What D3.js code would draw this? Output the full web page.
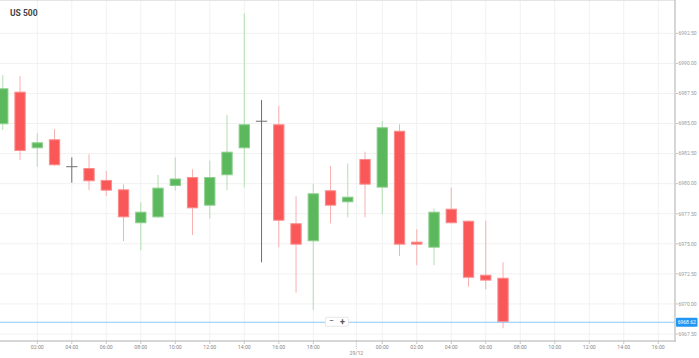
<!DOCTYPE html>
<html><head><meta charset="utf-8">
<script src="https://cdn.jsdelivr.net/npm/d3@7/dist/d3.min.js"></script>
<style>body{margin:0;background:#fff;}svg{display:block;font-family:Roboto,"Liberation Sans",sans-serif;}</style>
</head><body><svg id="c" width="699" height="358"></svg>
<script>
// ---- data ----
const categories = ["00:00","01:00","02:00","03:00","04:00","05:00","06:00","07:00","08:00","09:00","10:00","11:00","12:00","13:00","14:00","15:00","16:00","17:00","18:00","19:00","20:00","23:00","00:00","01:00","02:00","03:00","04:00","05:00","06:00","07:00"];
const opens  = [6984.94,6987.65,6982.94,6983.69,6981.41,6981.30,6980.31,6979.53,6976.71,6977.20,6979.81,6980.55,6978.17,6980.70,6982.94,6985.19,6984.94,6976.71,6975.21,6979.45,6978.45,6982.05,6979.67,6984.40,6975.18,6974.68,6977.92,6976.92,6972.43,6972.18];
const highs  = [6989.03,6988.95,6984.19,6984.54,6982.19,6982.44,6981.05,6979.95,6978.45,6980.72,6982.19,6981.19,6981.91,6985.71,6994.16,6986.96,6986.46,6978.95,6979.97,6981.47,6981.69,6982.66,6985.21,6984.94,6976.21,6977.92,6979.67,6976.95,6976.92,6973.46];
const lows   = [6984.46,6981.97,6981.41,6981.50,6980.08,6979.47,6978.98,6975.23,6974.49,6977.15,6979.43,6975.73,6977.09,6979.47,6979.70,6973.46,6974.71,6970.94,6969.50,6976.71,6977.20,6977.20,6977.45,6973.99,6973.22,6973.22,6976.68,6971.44,6971.22,6967.98];
const closes = [6987.93,6982.72,6983.44,6981.53,6981.41,6980.20,6979.42,6977.20,6977.67,6979.67,6980.43,6977.95,6980.55,6982.66,6984.94,6985.19,6976.92,6974.93,6979.20,6978.17,6978.92,6979.92,6984.69,6974.93,6974.93,6977.67,6976.71,6972.18,6971.94,6968.48];
const currentPriceLabel = "6968.62";
const title = "US 500";
const xTickPos    = [2,4,6,8,10,12,14,16,18,22,24,26,28,30,32,34,36,38];
const xTickLabels = ["02:00","04:00","06:00","08:00","10:00","12:00","14:00","16:00","18:00","00:00","02:00","04:00","06:00","08:00","10:00","12:00","14:00","16:00"];
const dateSepPos = 20.5, dateSepLabel = "29/12";
const yTickValues = [6967.5,6970,6972.5,6975,6977.5,6980,6982.5,6985,6987.5,6990,6992.5];
const yTickLabels = ["6967.50","6970.00","6972.50","6975.00","6977.50","6980.00","6982.50","6985.00","6987.50","6990.00","6992.50"];

// ---- layout ----
const W = 699, H = 358, plotR = 675, plotB = 341;
const svg = d3.select("#c");
const x = d3.scaleLinear().domain([-0.162, 38.97]).range([0, plotR]);
const y = d3.scaleLinear().domain([6966.92, 6995.27]).range([plotB, 0]);
const step = x(1) - x(0);
const bw = step * 0.655;

svg.append("defs").append("clipPath").attr("id","clip").append("rect")
  .attr("x",0).attr("y",0).attr("width",plotR).attr("height",plotB);

// grid
const grid = svg.append("g");
grid.selectAll("line.h").data(yTickValues).join("line")
  .attr("x1",0).attr("x2",plotR).attr("y1",d=>y(d)).attr("y2",d=>y(d))
  .attr("stroke","#f1f1f1").attr("stroke-width",1);
grid.selectAll("line.v").data(xTickPos.concat([dateSepPos])).join("line")
  .attr("x1",d=>x(d)).attr("x2",d=>x(d)).attr("y1",0).attr("y2",plotB)
  .attr("stroke","#f1f1f1").attr("stroke-width",1);
grid.append("line").attr("x1",0).attr("x2",plotR).attr("y1",0.5).attr("y2",0.5)
  .attr("stroke","#e4e4e4");

// candles
const data = categories.map((c,i)=>({i, c, o:opens[i], h:highs[i], l:lows[i], cl:closes[i]}));
const col = d => d.cl > d.o ? "up" : (d.cl < d.o ? "down" : "flat");
const fill = {up:"#5cb85c", down:"#fa5858", flat:"#777"};
const edge = {up:"#8ccf8c", down:"#fb8c8c", flat:"#777"};
const wick = {up:"#b3dfb3", down:"#f8b0b0", flat:"#707070"};
const cg = svg.append("g").attr("clip-path","url(#clip)");
cg.selectAll("line.w").data(data).join("line")
  .attr("x1",d=>x(d.i)).attr("x2",d=>x(d.i)).attr("y1",d=>y(d.h)).attr("y2",d=>y(d.l))
  .attr("stroke",d=>wick[col(d)]).attr("stroke-width",1);
cg.selectAll("rect.b").data(data.filter(d=>col(d)!=="flat")).join("rect")
  .attr("x",d=>x(d.i)-bw/2+0.5).attr("width",bw-1)
  .attr("y",d=>y(Math.max(d.o,d.cl))+0.5)
  .attr("height",d=>Math.max(1,Math.abs(y(d.o)-y(d.cl))-1))
  .attr("fill",d=>fill[col(d)]).attr("stroke",d=>edge[col(d)]).attr("stroke-width",1);
cg.selectAll("line.f").data(data.filter(d=>col(d)==="flat")).join("line")
  .attr("x1",d=>x(d.i)-bw/2).attr("x2",d=>x(d.i)+bw/2).attr("y1",d=>y(d.o)).attr("y2",d=>y(d.o))
  .attr("stroke","#707070").attr("stroke-width",1);

// current price line
const lastClose = closes[closes.length-1];
svg.append("line").attr("x1",0).attr("x2",plotR).attr("y1",y(lastClose)).attr("y2",y(lastClose))
  .attr("stroke","#8cc8f5").attr("stroke-width",1);

// zoom control
const zc = svg.append("g");
const zx = x(dateSepPos) - 31, zy = y(lastClose) - 5;
zc.append("rect").attr("x",zx).attr("y",zy).attr("width",23).attr("height",9).attr("rx",1)
  .attr("fill","#fff").attr("stroke","#e6e6e6");
zc.append("text").attr("x",zx+6).attr("y",zy+7.2).attr("text-anchor","middle")
  .attr("font-size",9).attr("fill","#555").text("−");
zc.append("text").attr("x",zx+17).attr("y",zy+7.4).attr("text-anchor","middle")
  .attr("font-size",9).attr("font-weight","bold").attr("fill","#555").text("+");

// axes
const ax = svg.append("g");
ax.append("line").attr("x1",plotR).attr("x2",plotR).attr("y1",0).attr("y2",plotB+1)
  .attr("stroke","#c8c8c8").attr("stroke-width",1.5);
ax.append("line").attr("x1",0).attr("x2",plotR+0.75).attr("y1",plotB).attr("y2",plotB)
  .attr("stroke","#c8c8c8").attr("stroke-width",1.5);
ax.selectAll("line.yt").data(yTickValues).join("line")
  .attr("x1",plotR+1).attr("x2",plotR+3).attr("y1",d=>y(d)).attr("y2",d=>y(d))
  .attr("stroke","#aaa").attr("stroke-width",0.7);
ax.selectAll("text.yl").data(yTickValues).join("text")
  .attr("x",plotR+3.5).attr("y",d=>y(d)+1.8).attr("font-size",5).attr("fill","#999")
  .text((d,i)=>yTickLabels[i]);
ax.selectAll("line.xt").data(xTickPos).join("line")
  .attr("x1",d=>x(d)).attr("x2",d=>x(d)).attr("y1",plotB).attr("y2",plotB+3)
  .attr("stroke","#bbb").attr("stroke-width",0.8);
ax.selectAll("text.xl").data(xTickPos).join("text")
  .attr("x",d=>x(d)).attr("y",plotB+7.8).attr("text-anchor","middle")
  .attr("font-size",5.2).attr("fill","#888").text((d,i)=>xTickLabels[i]);
ax.append("line").attr("x1",x(dateSepPos)).attr("x2",x(dateSepPos)).attr("y1",plotB).attr("y2",plotB+8)
  .attr("stroke","#aaa").attr("stroke-width",0.8).attr("stroke-dasharray","1.2,1.2");
ax.append("text").attr("x",x(dateSepPos)).attr("y",plotB+13.8).attr("text-anchor","middle")
  .attr("font-size",5.2).attr("fill","#888").text(dateSepLabel);

// price label
const pl = svg.append("g");
pl.append("rect").attr("x",plotR+1).attr("y",y(lastClose)-4.5).attr("width",21.5).attr("height",9).attr("rx",1)
  .attr("fill","#2196f3");
pl.append("text").attr("x",plotR+11.75).attr("y",y(lastClose)+1.8).attr("text-anchor","middle")
  .attr("font-size",5).attr("fill","#fff").text(currentPriceLabel);

// title
svg.append("text").attr("x",10).attr("y",15.5).attr("font-size",8.5).attr("font-weight","bold")
  .attr("fill","#444").text(title);
</script></body></html>
